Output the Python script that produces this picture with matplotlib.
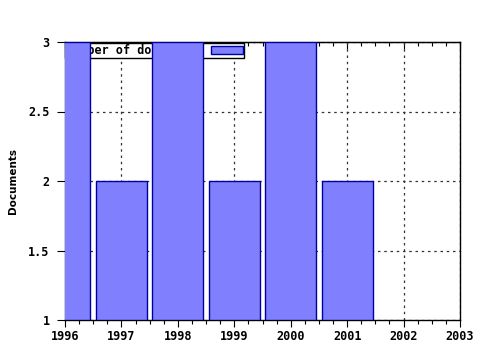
import numpy as np
import matplotlib
matplotlib.use("Agg")
import matplotlib.pyplot as plt
from matplotlib.ticker import MultipleLocator, FuncFormatter

# data
years = [1996, 1997, 1998, 1999, 2000, 2001]
docs = [3, 2, 3, 2, 3, 2]
series_name = "Number of documents"

plt.rcParams["font.family"] = "DejaVu Sans Mono"
plt.rcParams["font.weight"] = "bold"
plt.rcParams["font.size"] = 8.5

fig = plt.figure(figsize=(4.8, 3.5), dpi=100)
ax = fig.add_axes([65/480, 1-320/350, 395/480, 278/350])

ymin = 1
bars = ax.bar(years, np.array(docs) - ymin, bottom=ymin, width=0.9,
              color="#8080ff", edgecolor="#0000a0", linewidth=1.0,
              zorder=3, label=series_name)

ax.set_xlim(1996, 2003)
ax.set_ylim(1, 3)
ax.xaxis.set_major_locator(MultipleLocator(1))
ax.xaxis.set_minor_locator(MultipleLocator(0.25))
ax.yaxis.set_major_locator(MultipleLocator(0.5))
ax.yaxis.set_major_formatter(FuncFormatter(lambda v, p: ("%g" % v)))
ax.xaxis.set_major_formatter(FuncFormatter(lambda v, p: "%d" % v))

ax.grid(True, which="major", linestyle=(0, (2, 3)), color="#333333",
        linewidth=0.9, zorder=1)
ax.set_axisbelow(True)
ax.tick_params(axis="x", which="minor", direction="out", length=3, width=0.8)
ax.tick_params(axis="x", which="major", direction="out", length=5,
               width=0.8, pad=2)
ax.tick_params(axis="y", which="major", direction="out", length=6,
               width=0.8, pad=5)
for s in ax.spines.values():
    s.set_linewidth(1.0)

# top ticks point into the plot
top = ax.secondary_xaxis("top")
top.xaxis.set_major_locator(MultipleLocator(1))
top.xaxis.set_minor_locator(MultipleLocator(0.25))
top.tick_params(which="both", direction="in", labeltop=False, width=0.8)
top.tick_params(which="major", length=5)
top.tick_params(which="minor", length=3)

ax.set_ylabel("Documents", family="DejaVu Sans", fontsize=7.5,
              fontweight="bold")
ax.yaxis.set_label_coords(-0.12, 0.5)

leg = ax.legend(loc="upper left", bbox_to_anchor=(0.0, 0.996),
                frameon=True, fancybox=False, edgecolor="black",
                framealpha=1, handlelength=2.7, handleheight=0.6,
                borderpad=0.08, handletextpad=0.85, borderaxespad=0.0,
                markerfirst=False)
leg.get_frame().set_linewidth(1.0)
leg.set_zorder(2)

plt.savefig("out.png", dpi=100)
